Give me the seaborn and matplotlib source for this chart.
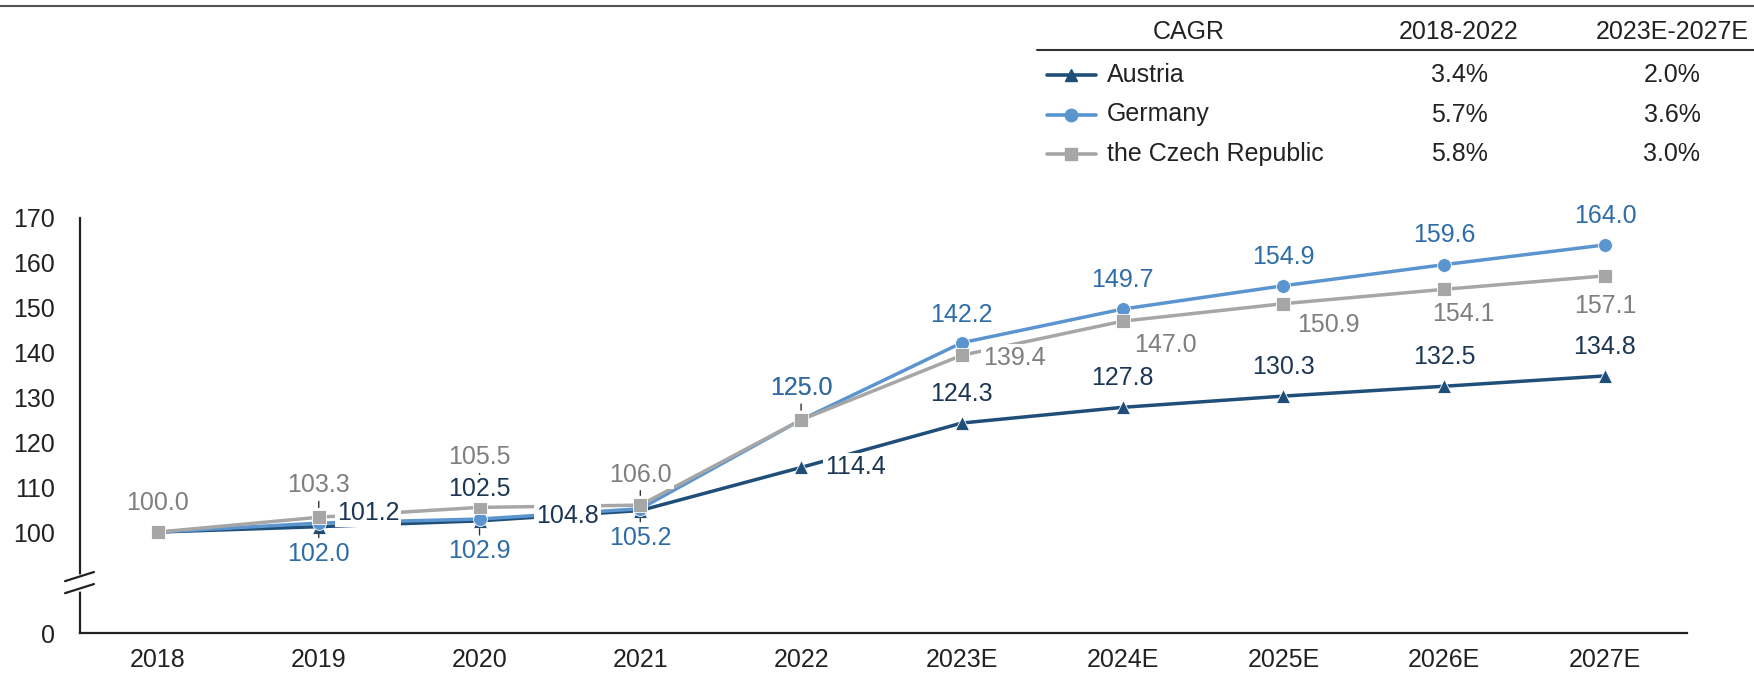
import matplotlib.pyplot as plt
import pandas as pd
import seaborn as sns

YEARS = ["2018", "2019", "2020", "2021", "2022", "2023E", "2024E", "2025E", "2026E", "2027E"]
COUNTRIES = ["Austria", "Germany", "the Czech Republic"]
AUSTRIA = [100.0, 101.2, 102.5, 104.8, 114.4, 124.3, 127.8, 130.3, 132.5, 134.8]
GERMANY = [100.0, 102.0, 102.9, 105.2, 125.0, 142.2, 149.7, 154.9, 159.6, 164.0]
CZECH = [100.0, 103.3, 105.5, 106.0, 125.0, 139.4, 147.0, 150.9, 154.1, 157.1]
CAGR_HIST = ["3.4%", "5.7%", "5.8%"]
CAGR_FCST = ["2.0%", "3.6%", "3.0%"]
Y_TICKS = [100, 110, 120, 130, 140, 150, 160, 170]

LINE_COLORS = {"Austria": "#1F4E79", "Germany": "#5B95D0", "the Czech Republic": "#A6A6A6"}
TEXT_COLORS = {"Austria": "#1C3756", "Germany": "#2E6DA8", "the Czech Republic": "#7F7F7F"}
MARKERS = {"Austria": "^", "Germany": "o", "the Czech Republic": "s"}

# label placement per point: (dx, dy, ha) in points, None = no label
UP = (0, 21, "center")
OFFSETS = {
    "Austria": [None, (13, 10, "left"), (0, 23, "center"), (-30, -4, "right"), (17, 0, "left"),
                UP, UP, UP, UP, UP],
    "Germany": [None, (0, -22, "center"), (0, -23, "center"), (0, -21, "center"), (0, 23, "center"),
                (0, 20, "center"), UP, UP, UP, UP],
    "the Czech Republic": [UP, (0, 23, "center"), (0, 36, "center"), (0, 22, "center"), (0, 23, "center"),
                           (15, -2, "left"), (8, -17, "left"), (10, -15, "left"), (14, -18, "center"),
                           (0, -22, "center")],
}
# small leader ticks between label and marker
LEADERS = {("the Czech Republic", 1), ("the Czech Republic", 2), ("the Czech Republic", 3),
           ("the Czech Republic", 4), ("Germany", 1), ("Germany", 2), ("Germany", 3)}

df = pd.DataFrame({
    "year": YEARS * 3,
    "x": list(range(len(YEARS))) * 3,
    "country": [c for c in COUNTRIES for _ in YEARS],
    "value": AUSTRIA + GERMANY + CZECH,
})

sns.set_style("white")
plt.rcParams["font.family"] = ["Liberation Sans", "DejaVu Sans"]

fig = plt.figure(figsize=(17.54, 6.74), dpi=100)
ax = fig.add_axes([0.0456, 0.0608, 0.9162, 0.6158])

sns.lineplot(
    data=df, x="x", y="value", hue="country", style="country",
    hue_order=COUNTRIES, style_order=COUNTRIES,
    palette=LINE_COLORS, markers=MARKERS, dashes=False,
    linewidth=2.5, markersize=10, markeredgewidth=0.6,
    legend=False, ax=ax, zorder=3,
)

ZERO_POS = 77.5
ax.set_xlim(-0.485, 9.51)
ax.set_ylim(ZERO_POS, 170)
ax.set_xticks(range(len(YEARS)))
ax.set_xticklabels(YEARS)
ax.set_yticks([ZERO_POS] + Y_TICKS)
ax.set_yticklabels(["0"] + [str(t) for t in Y_TICKS])
ax.set_xlabel("")
ax.set_ylabel("")
ax.tick_params(axis="x", length=0, labelsize=18, colors="#222222", pad=11)
ax.tick_params(axis="y", length=6, width=1.4, direction="out", labelsize=18,
               colors="#222222", pad=12)
for side in ["top", "right"]:
    ax.spines[side].set_visible(False)
for side in ["left", "bottom"]:
    ax.spines[side].set_color("#222222")
    ax.spines[side].set_linewidth(1.6)
ax.spines["bottom"].set_zorder(4)

# axis break on the y spine
ax.plot([0, 0], [0.106, 0.136], transform=ax.transAxes, color="white", lw=4, clip_on=False, zorder=5)
for y0, y1 in [(0.096, 0.118), (0.125, 0.147)]:
    ax.plot([-0.0093, 0.0087], [y0, y1], transform=ax.transAxes, color="#222222", lw=1.6,
            clip_on=False, zorder=6)

series = {"Austria": AUSTRIA, "Germany": GERMANY, "the Czech Republic": CZECH}
for country in ["the Czech Republic", "Austria", "Germany"]:
    vals = series[country]
    for i, v in enumerate(vals):
        off = OFFSETS[country][i]
        if off is None:
            continue
        dx, dy, ha = off
        box = None
        if not (country == "Germany" and i == 4):
            box = dict(boxstyle="square,pad=0.08", fc="white", ec="none")
        arrow = None
        if (country, i) in LEADERS:
            arrow = dict(arrowstyle="-", color="#333333", lw=1.0, shrinkA=1.5, shrinkB=7)
        ax.annotate(f"{v:.1f}", xy=(i, v), xytext=(dx, dy), textcoords="offset points",
                    ha=ha, va="center", fontsize=18, color=TEXT_COLORS[country],
                    bbox=box, arrowprops=arrow, zorder=7)

# CAGR table on top
tab = fig.add_axes([0, 0, 1, 1], facecolor="none")
tab.set_xlim(0, 1754)
tab.set_ylim(674, 0)
tab.axis("off")
tab.plot([0, 1754], [6, 6], color="#555555", lw=1.5)
tab.plot([1037, 1754], [50, 50], color="#333333", lw=1.5)
tab.text(1189, 32, "CAGR", ha="center", va="center", fontsize=18, color="#222222")
tab.text(1459, 32, "2018-2022", ha="center", va="center", fontsize=18, color="#222222")
tab.text(1672, 32, "2023E-2027E", ha="center", va="center", fontsize=18, color="#222222")
for row, country in enumerate(COUNTRIES):
    y = 75 + row * 39.5
    tab.plot([1047, 1096], [y, y], color=LINE_COLORS[country], lw=2.6)
    tab.plot([1071], [y], marker=MARKERS[country], color=LINE_COLORS[country], markersize=9)
    tab.text(1107, y, country, ha="left", va="center", fontsize=18, color="#222222")
    tab.text(1459, y, CAGR_HIST[row], ha="center", va="center", fontsize=18, color="#222222")
    tab.text(1672, y, CAGR_FCST[row], ha="center", va="center", fontsize=18, color="#222222")

fig.savefig("out.png", dpi=100)
